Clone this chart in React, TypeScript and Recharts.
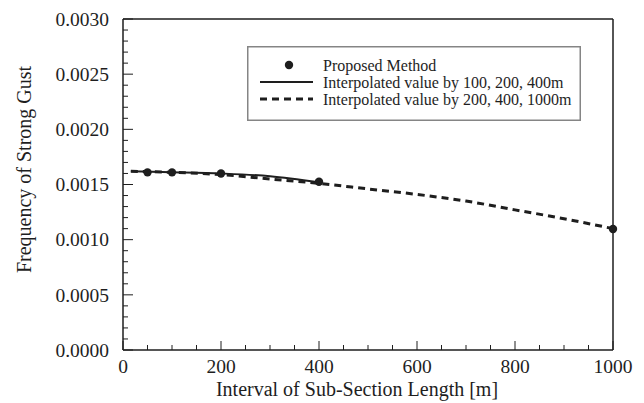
import React from 'react';
import { ComposedChart, Line, Scatter, XAxis, YAxis, Legend } from 'recharts';

// Proposed method results
const proposedX = [50, 100, 200, 400, 1000];
const proposedY = [0.00161, 0.00161, 0.0016, 0.001525, 0.001097];

// Interpolated by 100, 200, 400m (solid)
const solidX = [16, 100, 200, 300, 400];
const solidY = [0.00162, 0.001612, 0.0016, 0.001575, 0.00152];

// Interpolated by 200, 400, 1000m (dashed)
const dashedX = [16, 100, 200, 300, 400, 500, 600, 700, 800, 900, 1000];
const dashedY = [0.00162, 0.00161, 0.00159, 0.00155, 0.00151, 0.00146, 0.00141, 0.00135, 0.00127, 0.00119, 0.0011];

const seriesNames = [
    'Proposed Method',
    'Interpolated value by 100, 200, 400m',
    'Interpolated value by 200, 400, 1000m',
];

const xMajorTicks = [0, 200, 400, 600, 800, 1000];
const xMinorStep = 50;
const yMajorTicks = [0, 0.0005, 0.001, 0.0015, 0.002, 0.0025, 0.003];
const yMinorStep = 0.0001;

const xTicks = Array.from({ length: 1000 / xMinorStep + 1 }, (_, i) => i * xMinorStep);
const yTicks = Array.from({ length: 31 }, (_, i) => Number((i * yMinorStep).toFixed(4)));

const toPoints = (xs: number[], ys: number[]) => xs.map((x, i) => ({ x, y: ys[i] }));

const INK = '#1e1e1e';
const FONT = '"Liberation Serif", "DejaVu Serif", serif';

const XTick = (props: any) => {
    const { x, y, payload } = props;
    const v = payload.value;
    const major = xMajorTicks.includes(v);
    return (
        <g>
            <line x1={x} x2={x} y1={y} y2={y - (major ? 9 : 5)} stroke={INK} strokeWidth={1} />
            {major && (
                <text x={x} y={y + 23} textAnchor="middle" fill={INK} fontSize={19.5} fontFamily={FONT}>
                    {v}
                </text>
            )}
        </g>
    );
};

const isYMajor = (v: number) => yMajorTicks.some(t => Math.abs(t - v) < 1e-7);

const YTickLeft = (props: any) => {
    const { x, y, payload } = props;
    const major = isYMajor(payload.value);
    return (
        <g>
            <line x1={x} x2={x + (major ? 10 : 5)} y1={y} y2={y} stroke={INK} strokeWidth={1} />
            {major && (
                <text x={x - 14} y={y} dy="0.35em" textAnchor="end" fill={INK} fontSize={19.5} fontFamily={FONT}>
                    {payload.value.toFixed(4)}
                </text>
            )}
        </g>
    );
};

const YTickRight = (props: any) => {
    const { x, y, payload } = props;
    const major = isYMajor(payload.value);
    return <line x1={x} x2={x - (major ? 10 : 5)} y1={y} y2={y} stroke={INK} strokeWidth={1} />;
};

const LegendBox = (props: any) => {
    const items = [...(props.payload || [])].sort(
        (a: any, b: any) => seriesNames.indexOf(a.value) - seriesNames.indexOf(b.value)
    );
    return (
        <svg width={334} height={75} style={{ display: 'block' }}>
            <rect x={0.75} y={0.75} width={332.5} height={73.5} fill="#fff" stroke="#858585" strokeWidth={1.5} />
            {items.map((entry: any, i: number) => {
                const cy = 19 + i * 17;
                const kind = seriesNames.indexOf(entry.value);
                return (
                    <g key={i}>
                        {kind === 0 && <circle cx={42} cy={cy} r={4.2} fill={INK} />}
                        {kind === 1 && <line x1={13} x2={66} y1={cy} y2={cy} stroke={INK} strokeWidth={2} />}
                        {kind === 2 && (
                            <line x1={13} x2={66} y1={cy} y2={cy} stroke={INK} strokeWidth={3} strokeDasharray="7 5" />
                        )}
                        <text x={76} y={cy} dy="0.35em" fill={INK} fontSize={16} fontFamily={FONT}>
                            {entry.value}
                        </text>
                    </g>
                );
            })}
        </svg>
    );
};

const Dot = (props: any) => <circle cx={props.cx} cy={props.cy} r={4.2} fill={INK} />;

export default function App() {
    return (
        <div style={{ position: 'absolute', left: 0, top: 0, width: 644, height: 403, background: '#fff' }}>
            <ComposedChart width={644} height={403} margin={{ top: 0, right: 0, bottom: 0, left: 0 }}>
                <XAxis
                    xAxisId="top"
                    orientation="top"
                    type="number"
                    dataKey="x"
                    domain={[0, 1000]}
                    height={19}
                    tick={false}
                    tickLine={false}
                    axisLine={{ stroke: INK, strokeWidth: 1.5 }}
                />
                <XAxis
                    type="number"
                    dataKey="x"
                    domain={[0, 1000]}
                    ticks={xTicks}
                    interval={0}
                    height={53}
                    tickSize={0}
                    tickMargin={0}
                    tickLine={false}
                    tick={<XTick />}
                    axisLine={{ stroke: INK, strokeWidth: 1.5 }}
                    label={{
                        value: 'Interval of Sub-Section Length [m]',
                        position: 'insideBottom',
                        offset: 7,
                        dx: -11,
                        fill: INK,
                        fontSize: 20,
                        fontFamily: FONT,
                    }}
                />
                <YAxis
                    type="number"
                    dataKey="y"
                    domain={[0, 0.003]}
                    ticks={yTicks}
                    interval={0}
                    width={123}
                    tickSize={0}
                    tickMargin={0}
                    tickLine={false}
                    tick={<YTickLeft />}
                    axisLine={{ stroke: INK, strokeWidth: 1.5 }}
                    label={(p: any) => {
                        const vb = p.viewBox || { x: 0, y: 19, height: 331 };
                        const cx = vb.x + 24;
                        const cy = vb.y + vb.height / 2 - 15;
                        return (
                            <text
                                x={cx}
                                y={cy}
                                transform={`rotate(-90 ${cx} ${cy})`}
                                textAnchor="middle"
                                dy="0.35em"
                                fill={INK}
                                fontSize={20}
                                fontFamily={FONT}
                            >
                                Frequency of Strong Gust
                            </text>
                        );
                    }}
                />
                <YAxis
                    yAxisId="right"
                    orientation="right"
                    type="number"
                    domain={[0, 0.003]}
                    ticks={yTicks}
                    interval={0}
                    width={31}
                    tickSize={0}
                    tickMargin={0}
                    tickLine={false}
                    tick={<YTickRight />}
                    axisLine={{ stroke: INK, strokeWidth: 1.5 }}
                />
                <Legend
                    layout="vertical"
                    verticalAlign="middle"
                    align="center"
                    wrapperStyle={{ position: 'absolute', left: 247, top: 46, width: 334, height: 75 }}
                    content={<LegendBox />}
                />
                <Line
                    name={seriesNames[1]}
                    data={toPoints(solidX, solidY)}
                    dataKey="y"
                    type="monotone"
                    stroke={INK}
                    strokeWidth={2}
                    dot={false}
                    activeDot={false}
                    isAnimationActive={false}
                />
                <Line
                    name={seriesNames[2]}
                    data={toPoints(dashedX, dashedY)}
                    dataKey="y"
                    type="monotone"
                    stroke={INK}
                    strokeWidth={3}
                    strokeDasharray="7 5"
                    dot={false}
                    activeDot={false}
                    isAnimationActive={false}
                />
                <Scatter
                    name={seriesNames[0]}
                    data={toPoints(proposedX, proposedY)}
                    dataKey="y"
                    fill={INK}
                    shape={<Dot />}
                    isAnimationActive={false}
                />
            </ComposedChart>
        </div>
    );
}
